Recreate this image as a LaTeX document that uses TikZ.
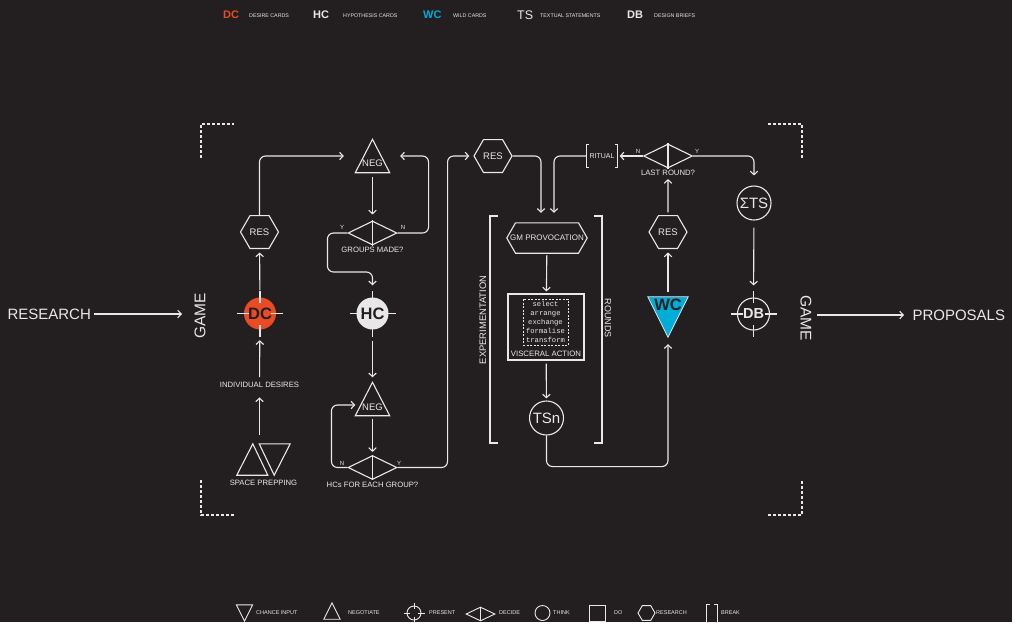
\documentclass[tikz,border=0pt]{standalone}
\usepackage{fontspec}
\setmainfont{Liberation Sans}
\setmonofont{Liberation Mono}
\usetikzlibrary{positioning,arrows.meta,shapes.geometric}
\definecolor{bgcol}{RGB}{35,31,32}
\definecolor{ink}{RGB}{232,232,232}
\definecolor{dccol}{RGB}{233,75,38}
\definecolor{wccol}{RGB}{0,172,216}

\begin{document}
\begin{tikzpicture}[x=1pt, y=-1pt,
  every node/.style={text=ink},
  line/.style={draw=ink, line width=1.1pt},
  arr/.style={line, rounded corners=6pt, -{Straight Barb[length=3.5pt, width=7.5pt]}},
  hexa/.style={regular polygon, regular polygon sides=6, line, minimum size=38pt, inner sep=0pt, font=\fontsize{9.5}{10}\selectfont},
  dia/.style={diamond, line, minimum width=49pt, minimum height=24pt, inner sep=0pt},
  think/.style={circle, line, minimum size=34pt, inner sep=0pt, font=\fontsize{15}{15}\selectfont},
  present/.style={circle, minimum size=32pt, inner sep=0pt, font=\bfseries\fontsize{16.5}{17}\selectfont},
  tribox/.style={minimum width=34pt, minimum height=33pt, inner sep=0pt},
  trilbl/.style={font=\fontsize{9.5}{10}\selectfont, inner sep=0pt},
  lbl/.style={font=\fontsize{7.7}{8}\selectfont, inner sep=1pt},
  yn/.style={font=\fontsize{6}{7}\selectfont, inner sep=0pt},
  big/.style={font=\fontsize{15}{16}\selectfont},
  side/.style={font=\fontsize{9.4}{10}\selectfont},
  key/.style={font=\bfseries\fontsize{11}{12}\selectfont, anchor=west, inner sep=0pt},
  keytxt/.style={font=\fontsize{5.3}{6}\selectfont, anchor=west, inner sep=0pt},
  frame/.style={line, dash pattern=on 3pt off 2pt}
]
\useasboundingbox[fill=bgcol] (0,0) rectangle (1012,622);

% =================== card legend ===================
\node[key, text=dccol] (kdc) at (223,15) {DC};
\node[keytxt] (kdct) at (249,16) {DESIRE CARDS};
\node[key] (khc) at (313,15) {HC};
\node[keytxt] (khct) at (343,16) {HYPOTHESIS CARDS};
\node[key, text=wccol] (kwc) at (423,15) {WC};
\node[keytxt] (kwct) at (453,16) {WILD CARDS};
\node[key, font=\fontsize{12.5}{13}\selectfont] (kts) at (517,15) {TS};
\node[keytxt] (ktst) at (540,16) {TEXTUAL STATEMENTS};
\node[key] (kdb) at (627,15) {DB};
\node[keytxt] (kdbt) at (654,16) {DESIGN BRIEFS};

% =================== outside the game ===================
\node[big, anchor=west] (research) at (4,314) {RESEARCH};
\node[big, font=\fontsize{15.5}{16}\selectfont, rotate=90] (game1) at (200,316) {GAME};
\node[big, font=\fontsize{15.5}{16}\selectfont, rotate=-90] (game2) at (806,318) {GAME};
\node[big, anchor=west] (proposals) at (909,315) {PROPOSALS};

\draw[frame] (201,158) |- (234,124);
\draw[frame] (201,480) |- (234,515);
\draw[frame] (768,124) -| (802,158);
\draw[frame] (768,515) -| (802,480);

% =================== desires ===================
\node[minimum width=53pt, minimum height=31pt, inner sep=0pt] (prep) at (263.5,459.5) {};
\draw[line] (prep.south west) -- ([xshift=31pt]prep.south west) -- ([xshift=16pt]prep.north west) -- cycle;
\draw[line] ([xshift=-31pt]prep.north east) -- (prep.north east) -- ([xshift=-16pt]prep.south east) -- cycle;
\node[lbl, below=3.5pt of prep] (prepl) {SPACE PREPPING};
\node[lbl] (ides) at (259.5,385) {INDIVIDUAL DESIRES};
\node[present, fill=dccol, text=bgcol] (dc) at (260,313.5) {DC};
\node[hexa] (res1) at (259.5,232) {RES};

% =================== groups and hypotheses ===================
\node[tribox] (neg1) at (372.5,156) {};
\node[trilbl] (neg1t) at ([yshift=-7.5pt]neg1.center) {NEG};
\node[dia] (dia1) at (372.5,233) {};
\node[lbl, below=0.5pt of dia1] (dia1l) {GROUPS MADE?};
\node[yn] (dia1y) at (342,227) {Y};
\node[yn] (dia1n) at (403,227) {N};
\node[present, fill=ink, text=bgcol] (hc) at (372.5,313.5) {HC};
\node[tribox] (neg2) at (372.5,399) {};
\node[trilbl] (neg2t) at ([yshift=-8pt]neg2.center) {NEG};
\node[dia] (dia2) at (372.5,467.5) {};
\node[lbl, below=0.5pt of dia2] (dia2l) {HCs FOR EACH GROUP?};
\node[yn] (dia2n) at (342,463) {N};
\node[yn] (dia2y) at (399,463) {Y};

% =================== experimentation rounds ===================
\node[hexa] (res2) at (493,156) {RES};
\node[lbl, font=\fontsize{7}{8}\selectfont, inner xsep=3pt, minimum height=22pt] (ritual) at (602,156) {RITUAL};
\node[minimum width=80pt, minimum height=30pt, inner sep=0pt, font=\fontsize{8}{9}\selectfont] (gm) at (547,238) {GM PROVOCATION};
\draw[line] (gm.west) -- ([xshift=8.7pt]gm.north west) -- ([xshift=-8.7pt]gm.north east) -- (gm.east)
  -- ([xshift=-8.7pt]gm.south east) -- ([xshift=8.7pt]gm.south west) -- cycle;
\node[line, minimum width=76pt, minimum height=66pt, inner sep=0pt] (act) at (546,327) {};
\node[draw=ink, line width=0.6pt, dash pattern=on 2pt off 1.5pt, align=center, inner xsep=1.5pt, inner ysep=2pt, minimum width=45pt,
      font=\ttfamily\fontsize{7.2}{9.2}\selectfont] (verbs) at (545.5,322) {select\\arrange\\exchange\\formalise\\transform};
\node[lbl, font=\fontsize{7.8}{8}\selectfont] (visc) at (546,353.5) {VISCERAL ACTION};
\node[think] (tsn) at (546.5,418) {TSn};
\draw[line] (498,216) -| (490,443) -- (498,443);
\draw[line] (594,216) -| (602,443) -- (594,443);
\node[side, rotate=90] (exper) at (483,320) {EXPERIMENTATION};
\node[side, font=\fontsize{9}{10}\selectfont, rotate=-90] (rounds) at (608,318) {ROUNDS};

% =================== wild cards and briefs ===================
\node[minimum size=40pt, inner sep=0pt] (wc) at (668,317) {};
\draw[draw=ink, line width=0.8pt, fill=wccol] (wc.north west) -- (wc.north east) -- (wc.south) -- cycle;
\node[font=\bfseries\fontsize{16.5}{17}\selectfont, text=bgcol, inner sep=0pt] (wct) at (668,305) {WC};
\node[hexa] (res3) at (668,232) {RES};
\node[dia] (dia3) at (668,156) {};
\node[lbl, below=0.5pt of dia3] (dia3l) {LAST ROUND?};
\node[yn] (dia3n) at (638,151) {N};
\node[yn] (dia3y) at (697,151) {Y};
\node[think] (sts) at (754,203) {ΣTS};
\node[present, line, font=\bfseries\fontsize{14.5}{15}\selectfont] (db) at (753.5,314) {DB};

% shape details
\foreach \t in {neg1,neg2}
  \draw[line] (\t.south west) -- (\t.south east) -- (\t.north) -- cycle;
\foreach \d in {dia1,dia2,dia3}
  \draw[line] (\d.north) -- (\d.south);
\foreach \n in {dc,hc,db}
  \foreach \a in {0,90,180,270}
    \draw[line] (\n.center) ++(\a:11) -- ++(\a:12);
\draw[line] ([xshift=3pt]ritual.north west) -- (ritual.north west) -- (ritual.south west) -- ([xshift=3pt]ritual.south west);
\draw[line] ([xshift=-3pt]ritual.north east) -- (ritual.north east) -- (ritual.south east) -- ([xshift=-3pt]ritual.south east);

% =================== arrows ===================
\draw[arr, shorten >=18pt] (research.east) -- (research.east -| game1.center);
\draw[arr, shorten <=11pt, shorten >=5pt] (game2.center |- proposals.west) -- (proposals.west);
\draw[arr, shorten <=9pt, shorten >=8.5pt] (prep.north -| ides) -- (ides);
\draw[arr, shorten <=4pt, shorten >=10.5pt] (ides) -- (dc);
\draw[arr, shorten <=7pt, shorten >=3.5pt] (dc) -- (res1);
\draw[arr, shorten >=11.5pt] (res1) |- (neg1);
\draw[arr, shorten <=4pt, shorten >=6pt] (neg1) -- (dia1);
\draw[arr, shorten >=10.5pt] (dia1.east) -- ++(31,0) |- (neg1);
\draw[arr, shorten >=12pt] (dia1.west) -| ++(-20,39) -| (hc);
\draw[arr, shorten <=11pt, shorten >=5pt] (hc) -- (neg2);
\draw[arr, shorten <=3pt, shorten >=3pt] (neg2) -- (dia2);
\draw[arr] (dia2.west) -- ++(-16,0) |- ([yshift=-6pt]neg2.west);
\draw[arr, shorten >=4pt] (dia2.east) -- ++(50,0) |- (res2);
\draw[arr, shorten >=10pt] (res2) -| ([xshift=-6pt]gm.north);
\draw[arr, shorten >=10pt] (ritual) -| ([xshift=7pt]gm.north);
\draw[arr, shorten <=2pt, shorten >=2pt] (gm) -- (act);
\draw[arr, shorten <=3pt, shorten >=2pt] (act) -- (tsn);
\draw[arr, shorten >=7pt] (tsn.south) -- ++(0,31) -| (wc.south);
\draw[arr, shorten <=5pt, shorten >=3.5pt] (wc) -- (res3);
\draw[arr, shorten <=2.5pt, shorten >=10.5pt] (res3) -- (dia3);
\draw[arr, shorten >=2pt] (dia3) -- (ritual);
\draw[arr, shorten >=10pt] (dia3) -| (sts);
\draw[arr, shorten <=7pt, shorten >=12pt] (sts) -- (db);

% =================== symbol legend ===================
\begin{scope}[line/.append style={line width=0.9pt}]
  \node[minimum size=16pt, inner sep=0pt] (kchance) at (244.5,613) {};
  \draw[line] (kchance.north west) -- (kchance.north east) -- (kchance.south) -- cycle;
  \node[keytxt, font=\fontsize{5.5}{6}\selectfont] (kchancet) at (256,613) {CHANCE INPUT};
  \node[minimum size=16pt, inner sep=0pt] (kneg) at (332,611) {};
  \draw[line] (kneg.south west) -- (kneg.south east) -- (kneg.north) -- cycle;
  \node[keytxt, font=\fontsize{5.5}{6}\selectfont] (knegt) at (348,613) {NEGOTIATE};
  \node[circle, line, minimum size=14pt, inner sep=0pt] (kpres) at (414,613) {};
  \foreach \a in {0,90,180,270}
    \draw[line] (kpres.center) ++(\a:4) -- ++(\a:6.5);
  \node[keytxt, font=\fontsize{5.5}{6}\selectfont] (kprest) at (429,613) {PRESENT};
  \node[dia, line, minimum width=29pt, minimum height=14pt] (kdec) at (480.5,614) {};
  \draw[line] (kdec.north) -- (kdec.south);
  \node[keytxt, font=\fontsize{5.5}{6}\selectfont] (kdect) at (499,613) {DECIDE};
  \node[circle, line, minimum size=15pt, inner sep=0pt] (kthink) at (542.5,613) {};
  \node[keytxt, font=\fontsize{5.5}{6}\selectfont] (kthinkt) at (553,613) {THINK};
  \node[line, minimum size=16pt, inner sep=0pt] (kdo) at (597.5,613) {};
  \node[keytxt, font=\fontsize{5.5}{6}\selectfont] (kdot) at (614,613) {DO};
  \node[hexa, line, minimum size=17pt] (kres) at (646.5,613) {};
  \node[keytxt, font=\fontsize{5.5}{6}\selectfont] (krest) at (656,613) {RESEARCH};
  \node[minimum width=10pt, minimum height=17pt, inner sep=0pt] (kbrk) at (712,613.5) {};
  \draw[line] ([xshift=3pt]kbrk.north west) -- (kbrk.north west) -- (kbrk.south west) -- ([xshift=3pt]kbrk.south west);
  \draw[line] ([xshift=-3pt]kbrk.north east) -- (kbrk.north east) -- (kbrk.south east) -- ([xshift=-3pt]kbrk.south east);
  \node[keytxt, font=\fontsize{5.5}{6}\selectfont] (kbrkt) at (721,613) {BREAK};
\end{scope}

\end{tikzpicture}
\end{document}
